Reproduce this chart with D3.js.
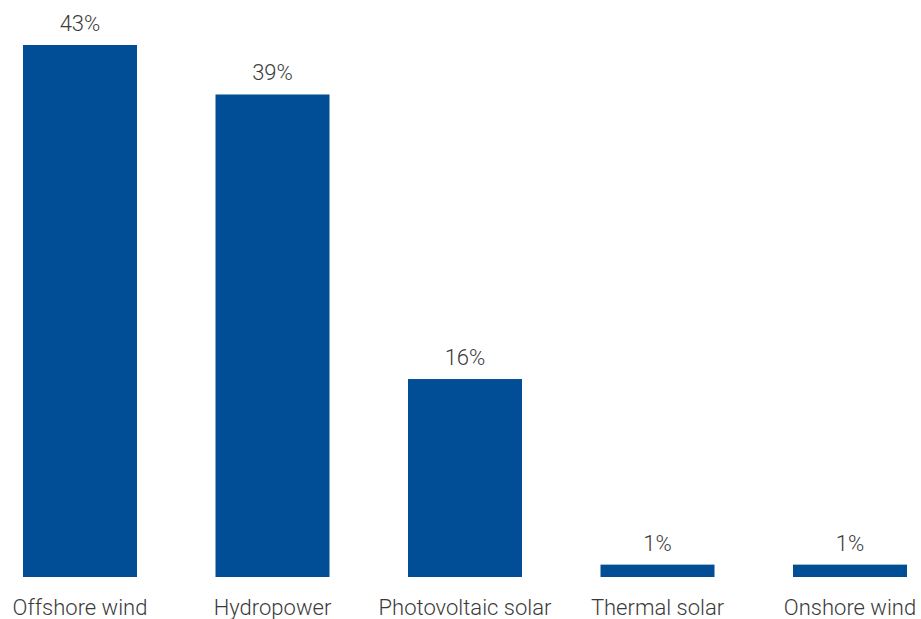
<!DOCTYPE html>
<html>
<head>
<meta charset="utf-8">
<script src="https://cdn.jsdelivr.net/npm/d3@7"></script>
<style>
  html, body { margin: 0; padding: 0; background: #ffffff; }
  svg { display: block; }
</style>
</head>
<body>
<div id="chart"></div>
<script>
const categories = ["Offshore wind", "Hydropower", "Photovoltaic solar", "Thermal solar", "Onshore wind"];
const values = [43, 39, 16, 1, 1];
const valueLabels = ["43%", "39%", "16%", "1%", "1%"];

const W = 921, H = 619;
const svg = d3.select("#chart").append("svg").attr("width", W).attr("height", H);

const x = d3.scaleBand().domain(categories).range([23, 907]).paddingInner(0.4078).paddingOuter(0);
const y = d3.scaleLinear().domain([0, 43]).range([577, 45]);

const font = "Roboto, 'Liberation Sans', Arial, sans-serif";
const textColor = "#3a3a3a";
const barColor = "#024e96";

const data = categories.map((c, i) => ({ c, v: values[i], label: valueLabels[i] }));

svg.selectAll("rect.bar").data(data).enter().append("rect")
  .attr("class", "bar")
  .attr("x", d => x(d.c))
  .attr("y", d => y(d.v))
  .attr("width", x.bandwidth())
  .attr("height", d => y(0) - y(d.v))
  .attr("fill", barColor);

svg.selectAll("text.val").data(data).enter().append("text")
  .attr("class", "val")
  .attr("x", d => x(d.c) + x.bandwidth() / 2)
  .attr("y", d => y(d.v) - 14)
  .attr("text-anchor", "middle")
  .style("font-family", font)
  .style("font-weight", 300)
  .style("font-size", "22px")
  .attr("fill", textColor)
  .text(d => d.label);

const xAxis = d3.axisBottom(x).tickSize(0).tickPadding(0);
const gx = svg.append("g").attr("transform", "translate(0,600)").call(xAxis);
gx.select(".domain").remove();
gx.selectAll("text")
  .attr("dy", null)
  .attr("y", 14.5)
  .style("font-family", font)
  .style("font-weight", 300)
  .style("font-size", "22px")
  .attr("fill", textColor);
</script>
</body>
</html>
